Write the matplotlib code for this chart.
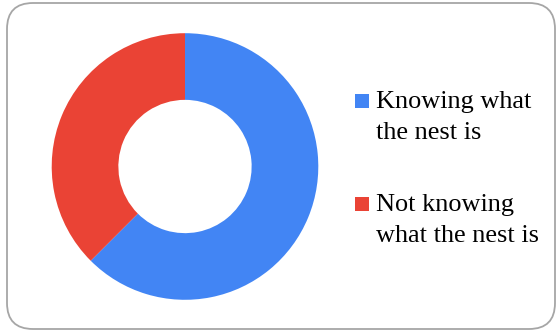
import matplotlib
matplotlib.use("Agg")
import matplotlib.pyplot as plt
from matplotlib.patches import FancyBboxPatch, Rectangle
from matplotlib.transforms import IdentityTransform

labels = ["Knowing what\nthe nest is", "Not knowing\nwhat the nest is"]
shares = [62.5, 37.5]
colors = ["#4285F4", "#EA4335"]

W, H = 557, 332
fig = plt.figure(figsize=(W / 100, H / 100), dpi=100)

# rounded frame around the whole chart
frame = FancyBboxPatch((7, 3), 548, 326, boxstyle="round,pad=0,rounding_size=26",
                       transform=IdentityTransform(), facecolor="none",
                       edgecolor="#a6a6a6", linewidth=1.3, zorder=-1)
fig.patches.append(frame)

# donut
cx, cy, r = 185, 166.5, 133.3
ax = fig.add_axes([(cx - r) / W, (H - cy - r) / H, 2 * r / W, 2 * r / H])
ax.pie(shares, colors=colors, startangle=90, counterclock=False, radius=1,
       wedgeprops=dict(width=0.5, linewidth=0))
ax.set_xlim(-1, 1)
ax.set_ylim(-1, 1)
ax.set_aspect("equal")
ax.axis("off")

# legend, square lined up with the first line of each label
baselines = [108, 211]
fs = 18.9
for lab, col, yb in zip(labels, colors, baselines):
    first, second = lab.split("\n")
    fig.patches.append(Rectangle((355 / W, (H - yb) / H), 14 / W, 14 / H,
                                 transform=fig.transFigure, facecolor=col,
                                 edgecolor="none"))
    fig.text(376 / W, (H - yb) / H, first, fontsize=fs,
             family="Liberation Serif", va="baseline", ha="left")
    fig.text(376 / W, (H - yb - 31) / H, second, fontsize=fs,
             family="Liberation Serif", va="baseline", ha="left")

fig.savefig("out.png", dpi=100)
